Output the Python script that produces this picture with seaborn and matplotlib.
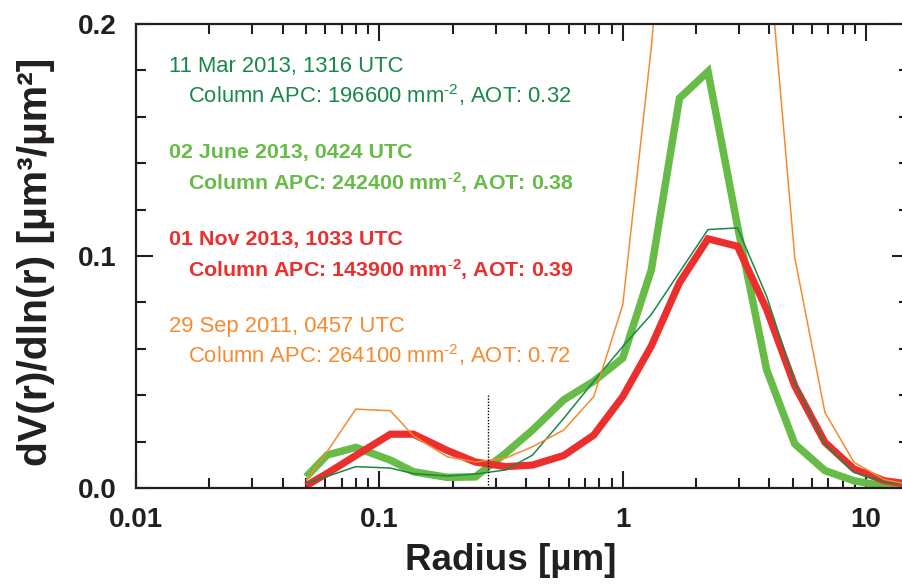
import matplotlib
matplotlib.use("Agg")
import matplotlib.pyplot as plt
from matplotlib.ticker import FixedLocator, MultipleLocator, LogLocator, NullFormatter
import seaborn as sns
import pandas as pd

# Retrieval radius bins [um]
radius = [0.05, 0.061, 0.080, 0.111, 0.138, 0.190, 0.248, 0.330, 0.426, 0.572, 0.760,
          1.00, 1.31, 1.71, 2.24, 2.96, 3.90, 5.09, 6.77, 8.91, 11.9, 15.0]

# Volume size distributions dV(r)/dln(r) [um^3/um^2]
vsd_11mar2013 = [0.002, 0.005, 0.0092, 0.0086, 0.0062, 0.0052, 0.0060, 0.0078, 0.0142, 0.030, 0.046,
                 0.061, 0.0748, 0.093, 0.1114, 0.1121, 0.0827, 0.0455, 0.0189, 0.0067, 0.0026, 0.0015]
vsd_02jun2013 = [0.0048, 0.0142, 0.0175, 0.0120, 0.0070, 0.0046, 0.0048, 0.0150, 0.0250, 0.038, 0.046,
                 0.0560, 0.094, 0.168, 0.1795, 0.113, 0.051, 0.019, 0.0075, 0.0031, 0.0008, 0.0003]
vsd_01nov2013 = [0.0010, 0.0063, 0.0140, 0.0232, 0.0232, 0.0162, 0.0112, 0.0092, 0.0099, 0.014, 0.0228,
                 0.0394, 0.0612, 0.0885, 0.1074, 0.1042, 0.077, 0.044, 0.0197, 0.0082, 0.0031, 0.0017]
vsd_29sep2011 = [0.0032, 0.0157, 0.0340, 0.0333, 0.0225, 0.0135, 0.0112, 0.0129, 0.0178, 0.025, 0.0394,
                 0.079, 0.190, 0.330, 0.380, 0.360, 0.240, 0.0993, 0.0326, 0.0111, 0.0036, 0.0015]

# Case descriptions
case_dates = ["11 Mar 2013, 1316 UTC", "02 June 2013, 0424 UTC",
              "01 Nov 2013, 1033 UTC", "29 Sep 2011, 0457 UTC"]
column_apc = [196600, 242400, 143900, 264100]
aot = [0.32, 0.38, 0.39, 0.72]

# Fine/coarse separation radius
cut_radius = 0.28
cut_top = 0.04

x_ticks = [0.01, 0.1, 1, 10]
x_ticklabels = ["0.01", "0.1", "1", "10"]
y_ticks = [0.0, 0.1, 0.2]
y_ticklabels = ["0.0", "0.1", "0.2"]

sns.set_style("ticks")
plt.rcParams["font.family"] = ["Liberation Sans", "DejaVu Sans"]
plt.rcParams["mathtext.fontset"] = "custom"
plt.rcParams["mathtext.rm"] = "Liberation Sans"
plt.rcParams["mathtext.bf"] = "Liberation Sans:bold"
plt.rcParams["mathtext.it"] = "Liberation Sans:italic"

W, H = 902, 586
fig = plt.figure(figsize=(W / 100, H / 100), dpi=100)
ax = fig.add_axes([136 / W, (H - 488) / H, (909 - 136) / W, (488 - 24) / H])

c_dark = "#17884a"
c_light = "#66bc46"
c_red = "#ec2f2d"
c_orange = "#f68a2e"

styles = [
    (vsd_02jun2013, c_light, 5.4),
    (vsd_01nov2013, c_red, 5.2),
    (vsd_11mar2013, c_dark, 1.1),
    (vsd_29sep2011, c_orange, 1.1),
]
for vals, col, lw in styles:
    df = pd.DataFrame({"r": radius, "v": vals})
    sns.lineplot(data=df, x="r", y="v", ax=ax, color=col, lw=lw, sort=False,
                 estimator=None, legend=False, solid_joinstyle="miter", solid_capstyle="butt")

ax.plot([cut_radius, cut_radius], [0, cut_top], color="black", lw=1.0, ls=(0, (1, 1.2)))

ax.set_xscale("log")
ax.set_xlim(0.01, 15)
ax.set_ylim(0, 0.2)

ax.xaxis.set_major_locator(FixedLocator(x_ticks))
ax.xaxis.set_minor_locator(LogLocator(base=10, subs=range(2, 10)))
ax.xaxis.set_minor_formatter(NullFormatter())
ax.set_xticklabels(x_ticklabels, fontsize=20, fontweight="bold")
ax.yaxis.set_major_locator(FixedLocator(y_ticks))
ax.yaxis.set_minor_locator(MultipleLocator(0.02))
ax.set_yticklabels(y_ticklabels, fontsize=20, fontweight="bold")

ax.tick_params(which="both", direction="in", top=True, right=True,
               color="#231f20", width=1.5, pad=14, labelcolor="#231f20")
ax.tick_params(which="major", length=12.5)
ax.tick_params(which="minor", length=7)
for s in ax.spines.values():
    s.set_linewidth(1.6)
    s.set_color("#231f20")

ax.set_xlabel("Radius [µm]", fontsize=26.5, fontweight="bold", color="#231f20", va="center")
ax.xaxis.set_label_coords(0.485, -0.157)
ax.set_ylabel("dV(r)/dln(r) [µm³/µm²]", fontsize=29.5, fontweight="bold", color="#231f20", va="center")
ax.yaxis.set_label_coords(-0.13, 0.487)

# Case annotations
colors = [c_dark, c_light, c_red, c_orange]
weights = ["normal", "bold", "bold", "normal"]
first_base = [72, 158, 245, 332]
for date, apc, tau, col, wt, yb in zip(case_dates, column_apc, aot, colors, weights, first_base):
    bold = wt == "bold"
    sup = r"$^{\mathbf{\text{-}2}}$" if bold else r"$^{\text{-}2}$"
    fs = 15.4 if bold else 15.8
    fig.text(169 / W, 1 - yb / H, date, color=col, fontsize=fs, fontweight=wt, va="baseline", ha="left")
    fig.text(188 / W, 1 - (yb + 31.5) / H, f"Column APC: {apc} mm{sup}, AOT: {tau:.2f}",
             color=col, fontsize=fs, fontweight=wt, va="baseline", ha="left")

fig.savefig("out.png", dpi=100)
